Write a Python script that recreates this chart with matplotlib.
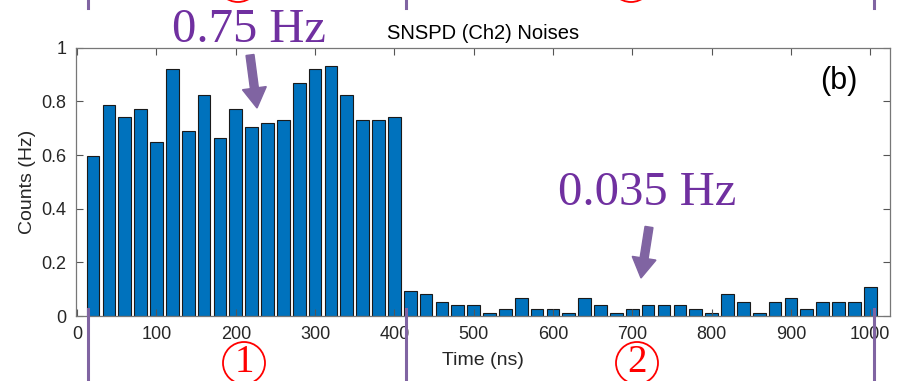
import matplotlib.pyplot as plt
from matplotlib.patches import FancyArrow, Circle
from matplotlib.lines import Line2D
from matplotlib.transforms import IdentityTransform

# bin centres (ns) and noise counts (Hz)
time_ns = [20 * (i + 1) for i in range(50)]
counts = [0.596, 0.785, 0.743, 0.773, 0.648, 0.920, 0.689, 0.825, 0.665, 0.773,
          0.704, 0.718, 0.732, 0.867, 0.920, 0.933, 0.825, 0.732, 0.732, 0.743,
          0.094, 0.081, 0.053, 0.040, 0.040, 0.012, 0.026, 0.067, 0.026, 0.026,
          0.012, 0.067, 0.040, 0.012, 0.026, 0.040, 0.040, 0.040, 0.026, 0.012,
          0.081, 0.053, 0.012, 0.053, 0.067, 0.026, 0.053, 0.053, 0.053, 0.108]
xticks = list(range(0, 1001, 100))
yticks = [0, 0.2, 0.4, 0.6, 0.8, 1]
ytick_labels = ['0', '0.2', '0.4', '0.6', '0.8', '1']

plt.rcParams['font.family'] = ['Liberation Sans', 'DejaVu Sans']

fig = plt.figure(figsize=(8.99, 3.81), dpi=100)
ax = fig.add_axes([0.0845, 0.1706, 0.9055, 0.704])

ax.bar(time_ns, counts, width=16, color='#0072BD', edgecolor='#1a1a1a', linewidth=0.8)
ax.set_xlim(-1.5, 1025)
ax.set_ylim(0, 1)
ax.set_xticks(xticks)
ax.set_yticks(yticks)
ax.set_yticklabels(ytick_labels)
ax.tick_params(direction='in', top=True, right=True, length=5, width=0.8,
               color='#555555', labelsize=13, labelcolor='#262626', pad=7)
for s in ax.spines.values():
    s.set_color('#777777')
    s.set_linewidth(0.9)
ax.set_title('SNSPD (Ch2) Noises', fontsize=14.5, pad=6)
ax.set_xlabel('Time (ns)', fontsize=14, color='#262626', labelpad=7)
ax.set_ylabel('Counts (Hz)', fontsize=14, color='#262626', labelpad=4)

ident = IdentityTransform()
H = 381
purple = '#8064A2'
txt_purple = '#7030A0'

# panel label
fig.text(839 / 899, (H - 81) / H, '(b)', fontsize=22, ha='center', va='center')

# annotations
fig.text(249 / 899, (H - 42) / H, '0.75 Hz', family='Liberation Serif', fontsize=35,
         color=txt_purple, ha='center', va='baseline')
fig.text(647 / 899, (H - 205) / H, '0.035 Hz', family='Liberation Serif', fontsize=35,
         color=txt_purple, ha='center', va='baseline')
fig.add_artist(FancyArrow(250, H - 55, 7, -53, width=8, head_width=24, head_length=20,
                          length_includes_head=True, color=purple, transform=ident))
fig.add_artist(FancyArrow(649, H - 227, -8, -51, width=8, head_width=24, head_length=20,
                          length_includes_head=True, color=purple, transform=ident))

# region markers
for xp in [88, 406, 874]:
    fig.add_artist(Line2D([xp, xp], [H - 8, H], color=purple, lw=2.2, transform=ident))
    fig.add_artist(Line2D([xp, xp], [0, H - 309], color=purple, lw=2.2, transform=ident))

# circled numbers
for cx, cy, num in [(244, 363, '1'), (637, 363, '2')]:
    fig.add_artist(Circle((cx, H - cy), 21, fill=False, ec='red', lw=1.3, transform=ident))
    fig.text(cx / 899, (H - cy) / H, num, family='Liberation Serif', fontsize=28,
             color='red', ha='center', va='center')
for cx in [238, 631]:
    fig.add_artist(Circle((cx, H + 19), 21, fill=False, ec='red', lw=1.3, transform=ident))

fig.savefig('out.png', dpi=100)
